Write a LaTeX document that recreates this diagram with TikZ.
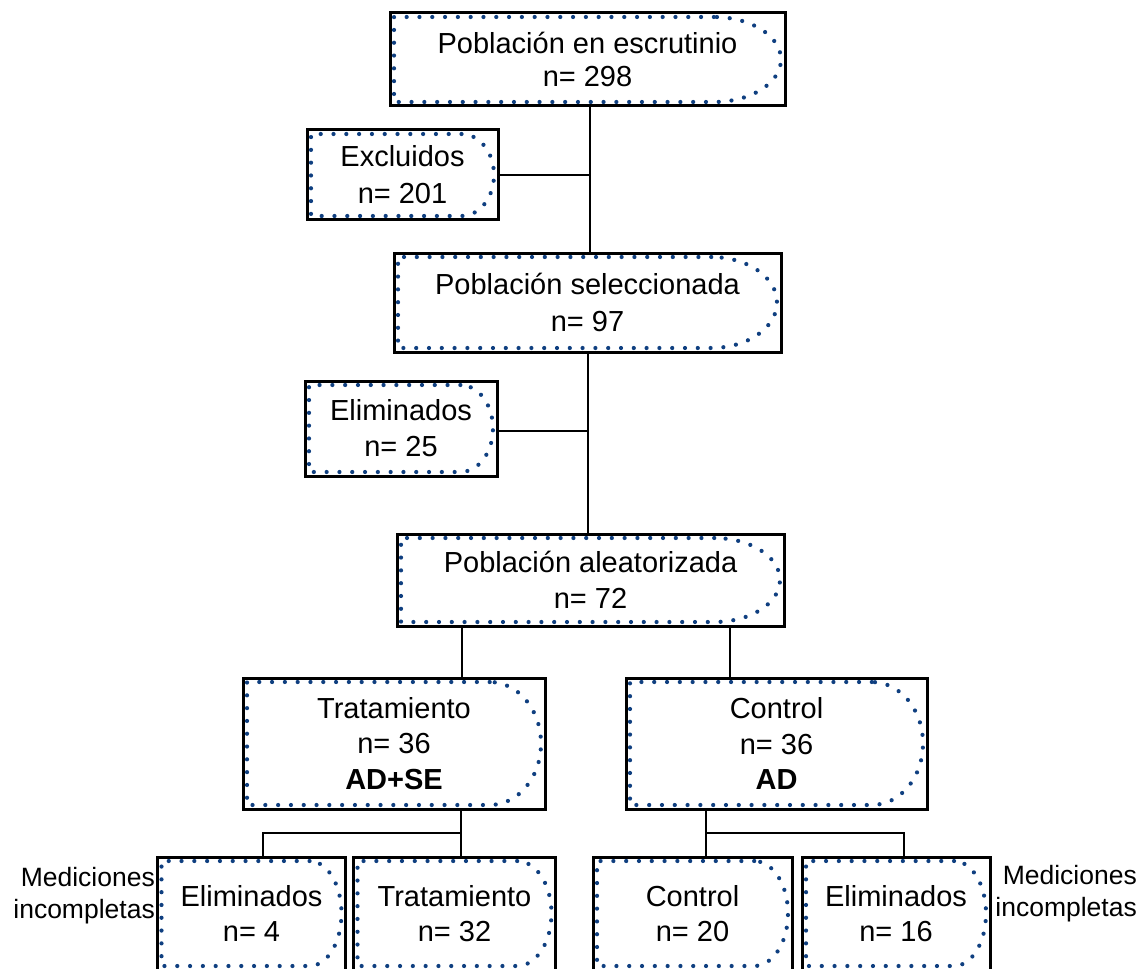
\documentclass[tikz,border=0pt]{standalone}
\usepackage{fontspec}
\setmainfont{Liberation Sans}
\definecolor{dotblue}{HTML}{0F3F80}
\tikzset{
  boxst/.style={draw=black, line width=3pt, inner sep=0pt, align=center},
  dotline/.style={draw=dotblue, line width=4.2pt, line cap=round, dash pattern=on 0pt off 12.8pt},
  conn/.style={draw=black, line width=2.8pt},
  sidelabel/.style={inner sep=0pt, align=right, font=\fontsize{26.5}{32}\selectfont},
}
\newcommand{\dbox}[7][35]{%
  \pgfmathsetmacro{\dbL}{#3-#5/2+4}%
  \pgfmathsetmacro{\dbR}{#3+#5/2-4}%
  \pgfmathsetmacro{\dbT}{#4-#6/2+4}%
  \pgfmathsetmacro{\dbB}{#4+#6/2-4}%
  \pgfmathsetmacro{\dbrx}{0.17*#5}%
  \pgfmathsetmacro{\dbA}{\dbR-\dbrx}%
  \pgfmathsetmacro{\dbry}{(\dbB-\dbT)/2}%
  \pgfmathsetmacro{\dbk}{0.5523*\dbrx}%
  \pgfmathsetmacro{\dbky}{0.5523*\dbry}%
  \pgfmathsetmacro{\dbC}{#4}%
  \draw[dotline] (\dbA,\dbT) -- (\dbL,\dbT) -- (\dbL,\dbB) -- (\dbA,\dbB)
    .. controls (\dbA+\dbk,\dbB) and (\dbR,\dbC+\dbky) .. (\dbR,\dbC)
    .. controls (\dbR,\dbC-\dbky) and (\dbA+\dbk,\dbT) .. (\dbA,\dbT);
  \node[boxst, minimum width=#5pt, minimum height=#6pt, font=\fontsize{29}{#1}\selectfont] (#2) at (#3,#4) {#7};
}
\begin{document}
\begin{tikzpicture}[x=1pt, y=-1pt]
\useasboundingbox (0,0) rectangle (1139,968);
\clip (0,0) rectangle (1139,968);
\fill[white] (0,0) rectangle (1139,968);

\dbox[33]{b1}{587.5}{59.5}{395}{93}{Población en escrutinio\\n= 298}
\dbox[37]{ex}{402.5}{175}{191}{90}{Excluidos\\n= 201}
\dbox[37]{b3}{587.5}{302.5}{387}{99}{Población seleccionada\\n= 97}
\dbox[36]{el}{401}{428.5}{192}{95}{Eliminados\\n= 25}
\dbox[36]{b5}{590.5}{580}{387}{92}{Población aleatorizada\\n= 72}
\dbox[35.5]{tr}{394}{743.5}{302}{131}{Tratamiento\\n= 36\\\textbf{AD+SE}}
\dbox[35.5]{co}{776.5}{743.5}{301}{131}{Control\\n= 36\\\textbf{AD}}
\dbox[35]{bl1}{251.5}{913.5}{188}{113}{Eliminados\\n= 4}
\dbox[35]{bl2}{454.5}{913.5}{202}{113}{Tratamiento\\n= 32}
\dbox[35]{br1}{692.5}{913.5}{199}{113}{Control\\n= 20}
\dbox[35]{br2}{896}{913.5}{188}{113}{Eliminados\\n= 16}

\node[sidelabel, anchor=north east] (ml) at (155,867.5) {Mediciones\\incompletas};
\node[sidelabel, anchor=north east] (mr) at (1137,865.5) {Mediciones\\incompletas};

% connectors
\draw[conn] ([xshift=2.5pt]b1.south) -- ([xshift=2.5pt]b1.south |- b3.north);
\draw[conn] (ex.east) -- ([xshift=2.5pt]ex.east -| b1.south);
\draw[conn] ([xshift=0.5pt]b3.south) -- ([xshift=0.5pt]b3.south |- b5.north);
\draw[conn] ([yshift=-2.5pt]el.east) -- ([yshift=-2.5pt,xshift=0.5pt]el.east -| b3.south);
\draw[conn] ([xshift=-128.5pt]b5.south) -- ([xshift=-128.5pt]b5.south |- tr.north);
\draw[conn] ([xshift=139.5pt]b5.south) -- ([xshift=139.5pt]b5.south |- co.north);
\coordinate (tj) at (461,833);
\coordinate (cj) at (706,833);
\draw[conn] ([xshift=67pt]tr.south) -- ([xshift=67pt]tr.south |- bl2.north);
\draw[conn] (tj) -| ([xshift=11.5pt]bl1.north);
\draw[conn] ([xshift=-70.5pt]co.south) -- ([xshift=-70.5pt]co.south |- br1.north);
\draw[conn] (cj) -| ([xshift=8pt]br2.north);
\end{tikzpicture}
\end{document}
